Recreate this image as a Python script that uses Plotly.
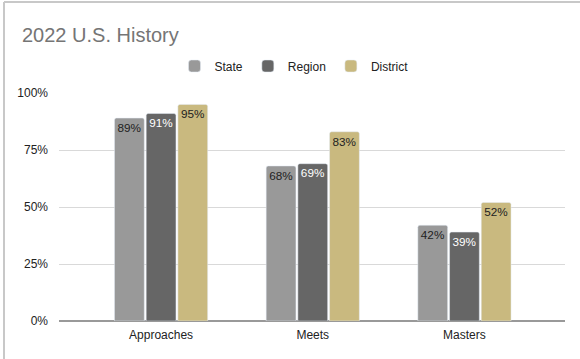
import plotly.graph_objects as go

categories = ["Approaches", "Meets", "Masters"]
state = [0.89, 0.68, 0.42]
region = [0.91, 0.69, 0.39]
district = [0.95, 0.83, 0.52]
series_names = ["State", "Region", "District"]
colors = ["#999999", "#666666", "#c9b97f"]
text_colors = ["#222222", "#ffffff", "#222222"]
y_ticks = [0, 0.25, 0.5, 0.75, 1.0]
y_tick_labels = ["0%", "25%", "50%", "75%", "100%"]

FONT = "Liberation Sans, Arial, sans-serif"

fig = go.Figure()
for name, vals, c, tc in zip(series_names, [state, region, district], colors, text_colors):
    fig.add_trace(go.Bar(
        name=name, x=categories, y=vals, marker_color=c,
        text=[f"{round(v*100)}%" for v in vals],
        textposition="inside", insidetextanchor="end",
        textfont=dict(color=tc, size=12, family=FONT),
        textangle=0,
    ))

W, H = 580, 359
L, R, T, B = 59, 15, 93, 38
pw, ph = W - L - R, H - T - B

fig.update_layout(
    width=W, height=H,
    margin=dict(l=L, r=R, t=T, b=B),
    paper_bgcolor="white", plot_bgcolor="white",
    font=dict(family=FONT, color="#222222", size=12),
    barmode="group", bargap=0.373, bargroupgap=0.06, barcornerradius=2,
    title=dict(text="2022 U.S. History", x=22 / W, xanchor="left", xref="container",
               y=1 - 35 / H, yanchor="middle", yref="container",
               font=dict(size=20, color="#757575", family=FONT)),
    legend=dict(orientation="h", x=(294 - L) / pw, xanchor="center",
                y=1 + (T - 66) / ph, yanchor="middle", itemwidth=30,
                font=dict(size=12, color="#222222"), traceorder="normal"),
    showlegend=True,
)
fig.update_xaxes(range=[-0.673, 2.663], showgrid=False, showline=False, zeroline=False,
                 ticks="", ticklabelstandoff=5, tickfont=dict(size=12, color="#222222"))
fig.update_yaxes(range=[0, 1], tickvals=y_ticks, ticktext=y_tick_labels,
                 showgrid=True, gridcolor="#d9d9d9", gridwidth=1,
                 zeroline=True, zerolinecolor="#999999", zerolinewidth=2,
                 ticks="", ticklabelstandoff=10, tickfont=dict(size=12, color="#222222"))

# card border (top and left edges)
fig.add_shape(type="line", xref="paper", yref="paper",
              x0=(4 - L) / pw, x1=(W - L) / pw, y0=1 + (T - 2) / ph, y1=1 + (T - 2) / ph,
              line=dict(color="#c8c8c8", width=2))
fig.add_shape(type="line", xref="paper", yref="paper",
              x0=(4 - L) / pw, x1=(4 - L) / pw, y0=1 + (T - 2) / ph, y1=-(B) / ph,
              line=dict(color="#c8c8c8", width=2))

fig.write_html("out.html", config={"displayModeBar": False},
               post_script="document.body.style.margin='0px';")
